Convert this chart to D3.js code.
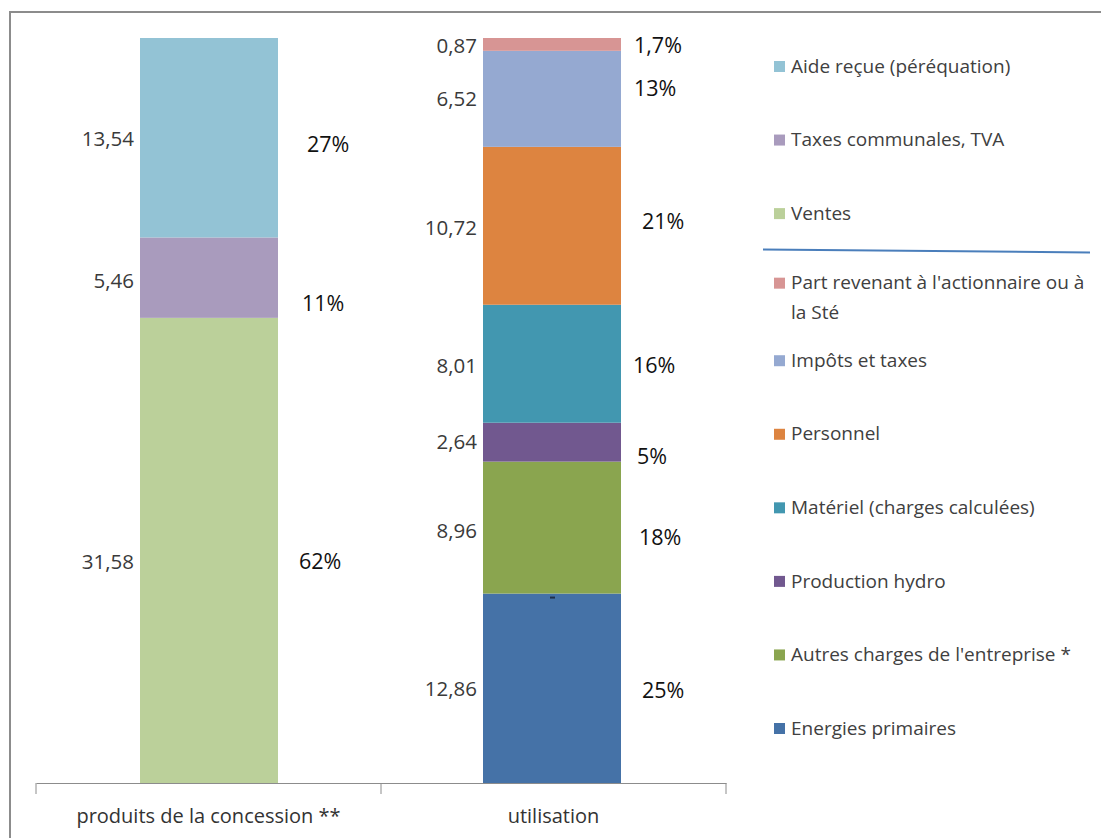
<!DOCTYPE html>
<html lang="fr">
<head>
  <meta charset="utf-8">
  <title>Produits et utilisation</title>
  <script type="text/javascript" src="https://cdn.jsdelivr.net/npm/d3@7"></script>
  <style>
    body { margin: 0; background: #fff; }
    text { font-family: "Open Sans", "DejaVu Sans", sans-serif; }
    .val { fill: #3a3a3a; font-size: 20.5px; }
    .pct { fill: #111; font-size: 21.5px; }
    .leg { fill: #404040; font-size: 19px; }
    .cat { fill: #333; font-size: 20px; }
  </style>
</head>
<body>
  <div id="chart"></div>
  <script type="text/javascript">

    var w = 1101,
        h = 838;

    // categories on the x axis
    var categories = ["produits de la concession **", "utilisation"];

    // series, bottom to top of the stacks
    var seriesNames = ["Ventes", "Taxes communales, TVA", "Aide reçue (péréquation)",
                       "Energies primaires", "Autres charges de l'entreprise *", "Production hydro",
                       "Matériel (charges calculées)", "Personnel", "Impôts et taxes",
                       "Part revenant à l'actionnaire ou à la Sté"];
    var seriesCategory = [0, 0, 0, 1, 1, 1, 1, 1, 1, 1];
    var seriesValues = [31.58, 5.46, 13.54, 12.86, 8.96, 2.64, 8.01, 10.72, 6.52, 0.87];
    var pctLabels = ["62%", "11%", "27%", "25%", "18%", "5%", "16%", "21%", "13%", "1,7%"];
    var colors = ["#bbd09a", "#a99bbd", "#93c3d5", "#4572a7", "#8aa54f", "#71588f",
                  "#4297b0", "#dd8440", "#95a9d1", "#d79594"];

    // legend order, top to bottom (indices into seriesNames)
    var legOrder = [2, 1, 0, 9, 8, 7, 6, 5, 4, 3];

    // hand placed labels in the original (dx, dy from segment middle)
    var pctShift = [[21, 11], [24, 26], [29, 7], [21, 2], [18, 10], [16, 14],
                    [12, 2], [21, -4], [13, -10], [13, 1]];
    var valShift = [11, 3, 1, 1, 3, 0, 2, 2, 0, 1];

    var svg = d3.select("#chart")
      .append("svg")
      .attr("width", w)
      .attr("height", h);

    // frame (only top and left edges visible)
    svg.append("path")
      .attr("d", "M10," + h + "V12H" + w)
      .attr("fill", "none")
      .attr("stroke", "#8c8c8c")
      .attr("stroke-width", 2);

    // table for d3.stack
    var table = categories.map(function(c, ci) {
      var row = {cat: c};
      seriesNames.forEach(function(s, i) {
        row[s] = seriesCategory[i] === ci ? seriesValues[i] : 0;
      });
      return row;
    });
    var stacked = d3.stack().keys(seriesNames)(table);

    var totals = table.map(function(r) { return d3.sum(seriesNames, function(s) { return r[s]; }); });

    var x = d3.scaleBand().domain(categories).range([36, 726]);
    var y = d3.scaleLinear().domain([0, d3.max(totals)]).range([783, 38]);
    var barW = x.bandwidth() * 0.4;

    var fr = d3.formatLocale({decimal: ",", thousands: " ", grouping: [3], currency: ["", " €"]});
    var fmt = fr.format(".2f");

    function barLeft(ci) {
      return Math.round(x(categories[ci]) + (x.bandwidth() - barW) / 2) - ci * 2;
    }

    // bars
    stacked.forEach(function(layer, i) {
      var ci = seriesCategory[i];
      var d = layer[ci];
      var x0 = barLeft(ci);
      var mid = (y(d[0]) + y(d[1])) / 2;

      svg.append("rect")
        .attr("class", "bar")
        .attr("x", x0)
        .attr("y", y(d[1]))
        .attr("width", barW)
        .attr("height", y(d[0]) - y(d[1]))
        .attr("fill", colors[i]);

      svg.append("text")
        .attr("class", "val")
        .attr("x", x0 - 6)
        .attr("y", mid + valShift[i])
        .attr("dy", "0.35em")
        .attr("text-anchor", "end")
        .text(fmt(seriesValues[i]));

      svg.append("text")
        .attr("class", "pct")
        .attr("x", x0 + barW + pctShift[i][0])
        .attr("y", mid + pctShift[i][1])
        .attr("dy", "0.35em")
        .text(pctLabels[i]);
    });

    // small stray mark at top of the first utilisation segment
    var mx = barLeft(1) + barW / 2;
    svg.append("line")
      .attr("x1", mx - 2)
      .attr("x2", mx + 3)
      .attr("y1", y(seriesValues[3]) + 4)
      .attr("y2", y(seriesValues[3]) + 4)
      .attr("stroke", "#1f2f4a")
      .attr("stroke-width", 2);

    // x axis
    var axis = svg.append("g")
      .attr("transform", "translate(0,783)")
      .call(d3.axisBottom(x).tickSize(0).tickFormat(""));
    axis.select(".domain").attr("stroke", "#8c8c8c");
    var edges = [36].concat(categories.map(function(c) { return x(c) + x.bandwidth(); }));
    axis.selectAll(".edge")
      .data(edges)
      .enter()
      .append("line")
      .attr("x1", function(d) { return d; })
      .attr("x2", function(d) { return d; })
      .attr("y1", 0)
      .attr("y2", 11)
      .attr("stroke", "#8c8c8c");
    svg.selectAll(".cat")
      .data(categories)
      .enter()
      .append("text")
      .attr("class", "cat")
      .attr("x", function(d) { return x(d) + x.bandwidth() / 2; })
      .attr("y", 823)
      .attr("text-anchor", "middle")
      .text(function(d) { return d; });

    // legend
    var ly = d3.scalePoint().domain(d3.range(legOrder.length)).range([66, 728]);

    legOrder.forEach(function(si, k) {
      var yy = ly(k);
      var name = seriesNames[si];
      var lines = [name];
      if (si === 9) {
        lines = ["Part revenant à l'actionnaire ou à", "la Sté"];
        yy = yy - 4;
      }
      svg.append("rect")
        .attr("x", 774)
        .attr("y", yy - 5)
        .attr("width", 11)
        .attr("height", 11)
        .attr("fill", colors[si]);
      lines.forEach(function(t, j) {
        svg.append("text")
          .attr("class", "leg")
          .attr("x", 791)
          .attr("y", yy + j * 30)
          .attr("dy", "0.35em")
          .text(t);
      });
    });

    // separator line between the two legend groups
    svg.append("line")
      .attr("x1", 763)
      .attr("y1", (ly(2) + ly(3)) / 2 - 0.5)
      .attr("x2", 1090)
      .attr("y2", (ly(2) + ly(3)) / 2 + 2.5)
      .attr("stroke", "#4a7ebb")
      .attr("stroke-width", 2);
  </script>
</body>
</html>
